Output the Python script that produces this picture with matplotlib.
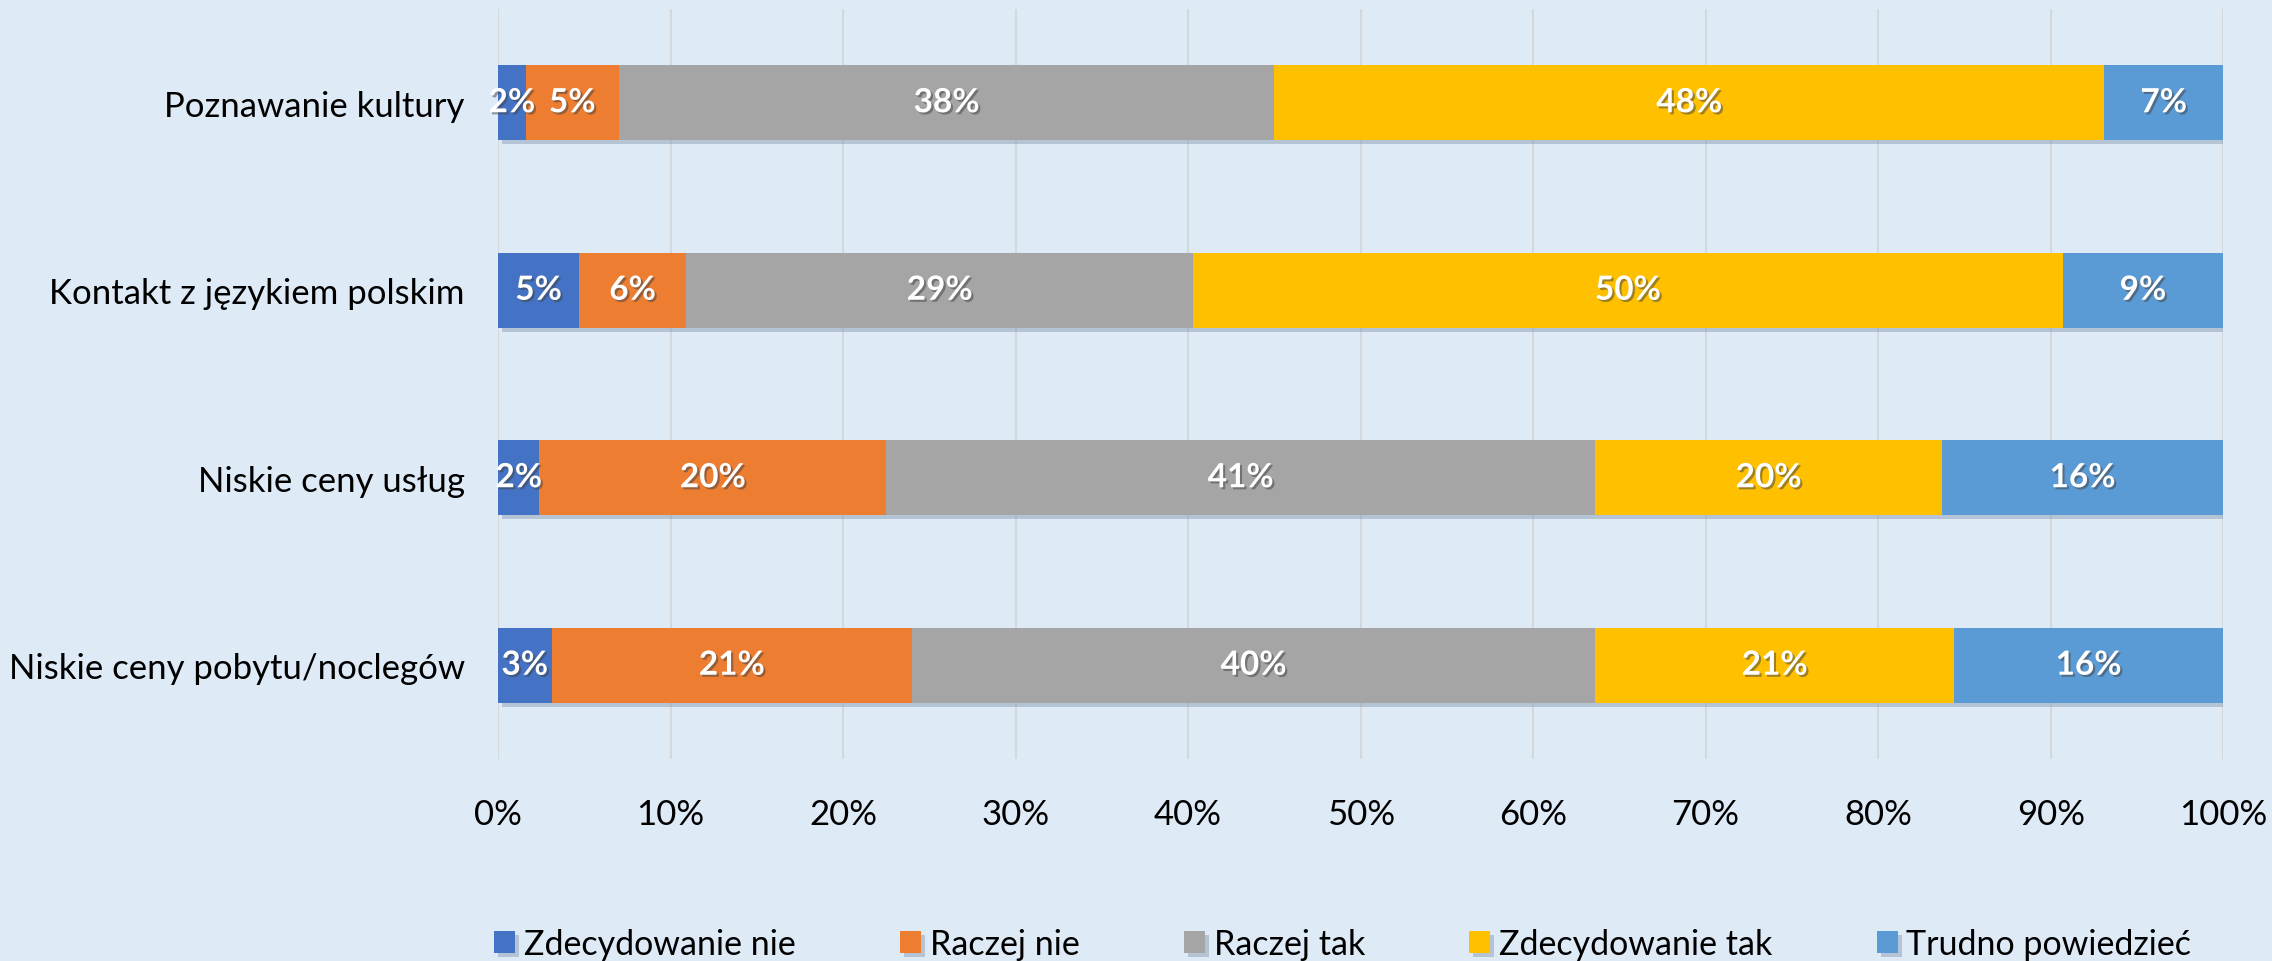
import matplotlib
matplotlib.use("Agg")
import matplotlib.patheffects as pe
import matplotlib.pyplot as plt
import numpy as np
from matplotlib.ticker import FuncFormatter

plt.rcParams["font.family"] = ["Lato", "DejaVu Sans"]

categories = [
    "Poznawanie kultury",
    "Kontakt z językiem polskim",
    "Niskie ceny usług",
    "Niskie ceny pobytu/noclegów",
]
series_names = [
    "Zdecydowanie nie",
    "Raczej nie",
    "Raczej tak",
    "Zdecydowanie tak",
    "Trudno powiedzieć",
]
# percentages per category, one list per answer
zdecydowanie_nie = [1.6, 4.7, 2.4, 3.1]
raczej_nie = [5.4, 6.2, 20.1, 20.9]
raczej_tak = [38.0, 29.4, 41.1, 39.6]
zdecydowanie_tak = [48.1, 50.4, 20.1, 20.8]
trudno_powiedziec = [6.9, 9.3, 16.3, 15.6]

colors = ["#4472C4", "#ED7D31", "#A5A5A5", "#FFC000", "#5B9BD5"]
BG = "#DEEAF6"

series = [zdecydowanie_nie, raczej_nie, raczej_tak, zdecydowanie_tak, trudno_powiedziec]

fig = plt.figure(figsize=(22.72, 9.62), dpi=100, facecolor=BG)
ax = fig.add_axes([0.2192, 0.21, 0.7593, 0.7796], facecolor=BG)

y = np.arange(len(categories))
left = np.zeros(len(categories))
bar_shadow = [pe.SimplePatchShadow(offset=(3, -3), shadow_rgbFace="#6a7f99", alpha=0.35), pe.Normal()]
text_shadow = [pe.SimplePatchShadow(offset=(1.5, -1.5), shadow_rgbFace="#404040", alpha=0.5), pe.Normal()]

for name, vals, col in zip(series_names, series, colors):
    vals = np.array(vals)
    bars = ax.barh(y, vals, left=left, height=0.4, color=col, label=name, zorder=3)
    for b in bars:
        b.set_path_effects(bar_shadow)
    for yi, l, v in zip(y, left, vals):
        ax.text(l + v / 2, yi, f"{v:.0f}%", ha="center", va="center", color="white",
                fontsize=24, fontweight="bold", zorder=5, path_effects=text_shadow)
    left += vals

ax.set_xlim(0, 100)
ax.set_ylim(3.5, -0.5)
ax.set_xticks(np.arange(0, 101, 10))
ax.xaxis.set_major_formatter(FuncFormatter(lambda v, _: f"{v:.0f}%"))
ax.set_yticks(y)
ax.set_yticklabels(categories)
ax.tick_params(axis="both", length=0, labelsize=25, colors="black")
ax.tick_params(axis="x", pad=28)
ax.tick_params(axis="y", pad=24)
ax.grid(axis="x", color="#D4D8DD", linewidth=1.5, zorder=0)
for s in ax.spines.values():
    s.set_visible(False)

fig.legend(loc="center", bbox_to_anchor=(0.591, 0.018), ncol=5, frameon=False,
           fontsize=24.5, handlelength=0.62, handleheight=0.62, handletextpad=0.26,
           columnspacing=3.06)

fig.savefig("out.png", dpi=100, facecolor=BG)
